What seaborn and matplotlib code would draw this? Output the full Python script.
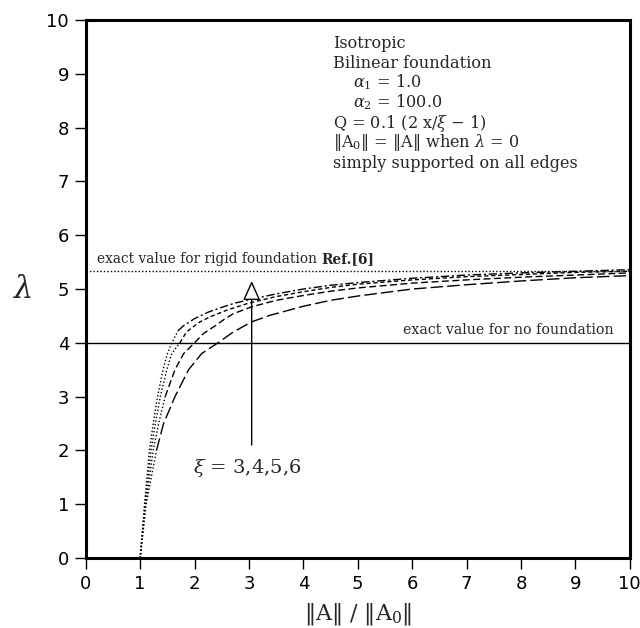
import numpy as np
import pandas as pd
import seaborn as sns
import matplotlib
matplotlib.use("Agg")
import matplotlib.pyplot as plt

# ---------------- data ----------------
xi_labels = ["3", "4", "5", "6"]

x_xi3 = [1.00, 1.08, 1.17, 1.24, 1.32, 1.42, 1.50, 1.58, 1.70,
         1.80, 1.91, 2.00, 2.25, 2.50, 2.75, 3.00, 3.50, 4.00, 4.50, 5.00, 6.00, 7.00, 8.00, 9.00, 10.0]
l_xi3 = [0.00, 1.00, 2.00, 2.50, 3.00, 3.50, 3.80, 4.00, 4.23,
         4.32, 4.39, 4.45, 4.57, 4.66, 4.74, 4.80, 4.91, 5.00, 5.07, 5.12, 5.20, 5.26, 5.30, 5.33, 5.36]

x_xi4 = [1.00, 1.09, 1.20, 1.28, 1.37, 1.49, 1.58, 1.73, 1.85,
         1.95, 2.10, 2.30, 2.60, 3.00, 3.50, 4.00, 4.50, 5.00, 6.00, 7.00, 8.00, 9.00, 10.0]
l_xi4 = [0.00, 1.00, 2.00, 2.50, 3.00, 3.50, 3.80, 4.00, 4.20,
         4.28, 4.39, 4.49, 4.61, 4.74, 4.86, 4.95, 5.03, 5.09, 5.17, 5.23, 5.27, 5.31, 5.33]

x_xi5 = [1.00, 1.10, 1.24, 1.34, 1.46, 1.64, 1.80, 2.00, 2.16,
         2.28, 2.40, 2.55, 2.71, 3.05, 3.50, 4.00, 4.50, 5.00, 6.00, 7.00, 8.00, 9.00, 10.0]
l_xi5 = [0.00, 1.00, 2.00, 2.50, 3.00, 3.50, 3.80, 4.00, 4.17,
         4.25, 4.33, 4.44, 4.54, 4.67, 4.79, 4.88, 4.96, 5.02, 5.11, 5.17, 5.22, 5.26, 5.30]

x_xi6 = [1.00, 1.11, 1.30, 1.43, 1.64, 1.89, 2.13, 2.43, 2.71,
         3.05, 3.38, 4.00, 4.50, 5.00, 6.00, 7.00, 8.00, 9.00, 10.0]
l_xi6 = [0.00, 1.00, 2.00, 2.50, 3.00, 3.50, 3.80, 4.00, 4.20,
         4.39, 4.51, 4.68, 4.79, 4.87, 5.00, 5.08, 5.15, 5.21, 5.25]

lambda_no_foundation = 4.0
lambda_rigid = 5.34

x_ticks = list(range(0, 11))
y_ticks = list(range(0, 11))

# ---------------- style ----------------
sns.set_theme(style="ticks")
plt.rcParams["font.family"] = ["DejaVu Sans"]
plt.rcParams["mathtext.fontset"] = "dejavuserif"

fig = plt.figure(figsize=(6.4, 6.28), dpi=100)
ax = fig.add_axes([0.134, 0.1115, 0.850, 0.8565])

curves = [(x_xi3, l_xi3), (x_xi4, l_xi4), (x_xi5, l_xi5), (x_xi6, l_xi6)]
split_idx = [8, 7, 4, 2]
upper_styles = [(0, (6, 2, 1.5, 2)), (0, (3, 2)), (0, (5, 2.5)), (0, (9, 3))]
dot_style = (0, (1, 1.6))

for (xs, ls_), si, st in zip(curves, split_idx, upper_styles):
    lower = pd.DataFrame({"x": xs[:si + 1], "lam": ls_[:si + 1]})
    upper = pd.DataFrame({"x": xs[si:], "lam": ls_[si:]})
    sns.lineplot(data=lower, x="x", y="lam", ax=ax, color="black", lw=1.0,
                 sort=False, estimator=None)
    ax.lines[-1].set_linestyle(dot_style)
    sns.lineplot(data=upper, x="x", y="lam", ax=ax, color="black", lw=1.0,
                 sort=False, estimator=None)
    ax.lines[-1].set_linestyle(st)

ax.axhline(lambda_no_foundation, color="black", lw=1.0)
ax.axhline(lambda_rigid, color="black", lw=1.0, linestyle=(0, (1, 1.5)))

ax.set_xlim(0, 10)
ax.set_ylim(0, 10)
ax.set_xticks(x_ticks)
ax.set_yticks(y_ticks)
ax.tick_params(axis="both", direction="out", length=8, width=1, colors="black",
               labelsize=13, pad=4)
for sp in ax.spines.values():
    sp.set_visible(True)
    sp.set_linewidth(2.2)
    sp.set_color("black")

ax.set_xlabel(r"$\Vert$A$\Vert$ / $\Vert$A$_{0}\Vert$", fontsize=16,
              family="DejaVu Serif", labelpad=6)
ax.set_ylabel(r"$\lambda$", fontsize=22, rotation=0, ha="center", va="center")
ax.yaxis.set_label_coords(-0.118, 0.5)

serif = "DejaVu Serif"
fs = 11.6
tx, tx2 = 4.54, 4.91
ax.text(tx, 9.57, "Isotropic", fontsize=fs, family=serif, va="center")
ax.text(tx, 9.19, "Bilinear foundation", fontsize=fs, family=serif, va="center")
ax.text(tx2, 8.84, r"$\alpha_{1}$ = 1.0", fontsize=fs, family=serif, va="center")
ax.text(tx2, 8.47, r"$\alpha_{2}$ = 100.0", fontsize=fs, family=serif, va="center")
ax.text(tx, 8.08, r"Q = 0.1 (2 x/$\xi$ $-$ 1)", fontsize=fs, family=serif, va="center")
ax.text(tx, 7.72, r"$\Vert$A$_{0}\Vert$ = $\Vert$A$\Vert$ when $\lambda$ = 0",
        fontsize=fs, family=serif, va="center")
ax.text(tx, 7.34, "simply supported on all edges", fontsize=fs, family=serif, va="center")

ax.text(0.2, lambda_rigid + 0.14, "exact value for rigid foundation ", fontsize=9.9,
        family=serif, va="baseline")
ax.annotate("Ref.[6]", xy=(1, 0), xycoords=ax.texts[-1], fontsize=9.9,
            family=serif, fontweight="bold", va="bottom")
ax.text(9.7, lambda_no_foundation + 0.16, "exact value for no foundation", fontsize=10.2,
        family=serif, va="baseline", ha="right")

ax.annotate("", xy=(3.05, 5.15), xytext=(3.05, 2.1),
            arrowprops=dict(arrowstyle="-|>,head_length=1.0,head_width=0.45",
                            fc="white", ec="black", lw=1.0, shrinkA=0, shrinkB=0))
ax.text(1.97, 1.67, r"$\xi$ = " + ",".join(xi_labels), fontsize=14, family=serif,
        va="center")

fig.savefig("out.png", dpi=100)
